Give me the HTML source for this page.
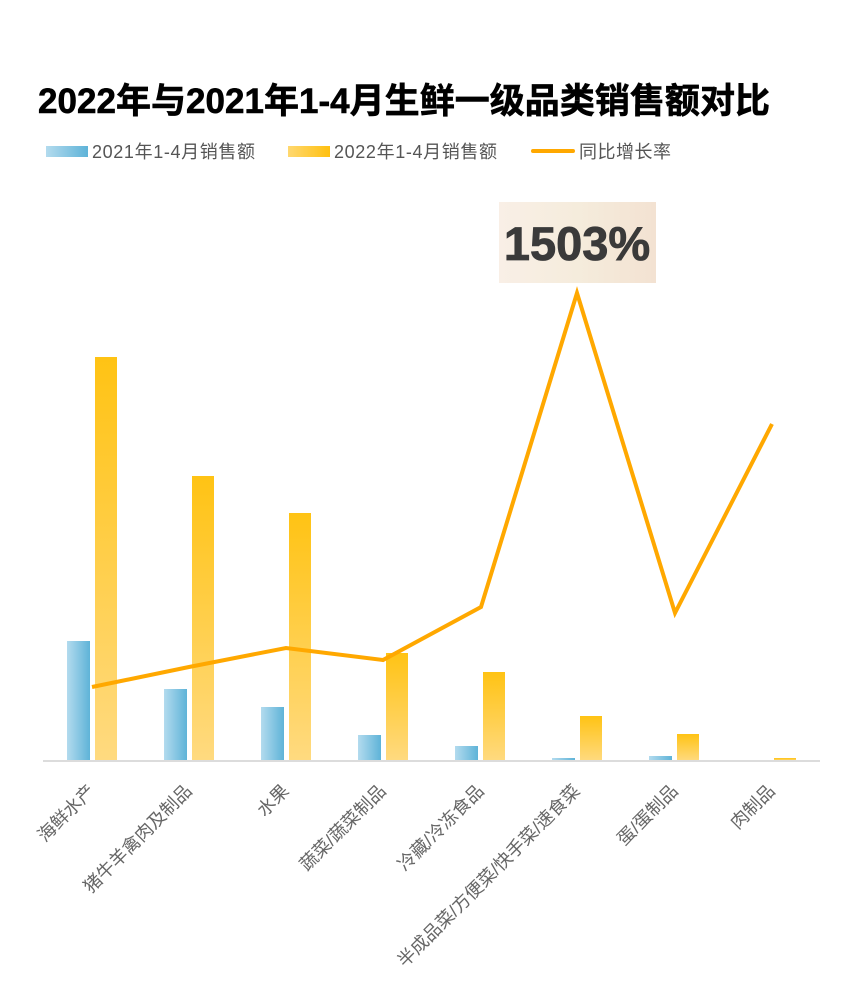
<!DOCTYPE html>
<html><head><meta charset="utf-8"><style>
html,body{margin:0;padding:0;background:#fff;}
svg{display:block;}
</style></head><body>
<svg width="850" height="1006" viewBox="0 0 850 1006" xmlns="http://www.w3.org/2000/svg">
<defs>
<linearGradient id="bl" x1="0" y1="0" x2="1" y2="0"><stop offset="0" stop-color="#b3dbee"/><stop offset="1" stop-color="#5eb3d8"/></linearGradient>
<linearGradient id="yl" x1="0" y1="0" x2="0" y2="1"><stop offset="0" stop-color="#ffc314"/><stop offset="1" stop-color="#ffda80"/></linearGradient>
<linearGradient id="ylh" x1="0" y1="0" x2="1" y2="0"><stop offset="0" stop-color="#ffd870"/><stop offset="1" stop-color="#ffc010"/></linearGradient>
<linearGradient id="bx" x1="0" y1="0" x2="1" y2="0"><stop offset="0" stop-color="#f9efe6"/><stop offset="0.5" stop-color="#f5ecdc"/><stop offset="1" stop-color="#f3e2d2"/></linearGradient>
</defs>
<text x="38" y="113" font-family="Liberation Sans, Noto Sans CJK SC, sans-serif" font-size="35" font-weight="bold" fill="#000" stroke="#000" stroke-width="0.6" textLength="732" lengthAdjust="spacing">2022年与2021年1-4月生鲜一级品类销售额对比</text>
<g font-family="Liberation Sans, Noto Sans CJK SC, sans-serif" font-size="18" fill="#555">
<rect x="46" y="146" width="42" height="11" fill="url(#bl)"/>
<text x="92" y="158" textLength="163" lengthAdjust="spacing">2021年1-4月销售额</text>
<rect x="288" y="146" width="42" height="11" fill="url(#ylh)"/>
<text x="334" y="158" textLength="163" lengthAdjust="spacing">2022年1-4月销售额</text>
<rect x="531" y="149" width="44" height="4" rx="2" fill="#ffa800"/>
<text x="579" y="158" textLength="92" lengthAdjust="spacing">同比增长率</text>
</g>
<rect x="499" y="202" width="157" height="81" fill="url(#bx)"/>
<text x="577" y="260" text-anchor="middle" font-family="Liberation Sans, sans-serif" font-size="47" font-weight="bold" fill="#3a3a3a" stroke="#3a3a3a" stroke-width="0.8">1503%</text>
<g>
<rect x="67" y="641" width="23" height="120" fill="url(#bl)"/>
<rect x="95" y="357" width="22" height="404" fill="url(#yl)"/>
<rect x="164" y="689" width="23" height="72" fill="url(#bl)"/>
<rect x="192" y="476" width="22" height="285" fill="url(#yl)"/>
<rect x="261" y="707" width="23" height="54" fill="url(#bl)"/>
<rect x="289" y="513" width="22" height="248" fill="url(#yl)"/>
<rect x="358" y="735" width="23" height="26" fill="url(#bl)"/>
<rect x="386" y="653" width="22" height="108" fill="url(#yl)"/>
<rect x="455" y="746" width="23" height="15" fill="url(#bl)"/>
<rect x="483" y="672" width="22" height="89" fill="url(#yl)"/>
<rect x="552" y="758" width="23" height="3" fill="url(#bl)"/>
<rect x="580" y="716" width="22" height="45" fill="url(#yl)"/>
<rect x="649" y="756" width="23" height="5" fill="url(#bl)"/>
<rect x="677" y="734" width="22" height="27" fill="url(#yl)"/>
<rect x="746" y="760" width="23" height="1" fill="url(#bl)"/>
<rect x="774" y="758" width="22" height="3" fill="url(#yl)"/>
</g>
<rect x="43" y="760" width="777" height="2" fill="#dcdcdc"/>
<polyline points="92,687 189,667 286,648 383,660 481,607 577,293 675,613 772,424" fill="none" stroke="#ffa800" stroke-width="4" stroke-linejoin="miter"/>
<g font-family="Liberation Sans, Noto Sans CJK SC, sans-serif" font-size="18" fill="#666" text-anchor="end">
<text transform="translate(96,792) rotate(-45)">海鲜水产</text>
<text transform="translate(193,792) rotate(-45)">猪牛羊禽肉及制品</text>
<text transform="translate(290,792) rotate(-45)">水果</text>
<text transform="translate(387,792) rotate(-45)">蔬菜/蔬菜制品</text>
<text transform="translate(485,792) rotate(-45)">冷藏/冷冻食品</text>
<text transform="translate(581,792) rotate(-45)">半成品菜/方便菜/快手菜/速食菜</text>
<text transform="translate(679,792) rotate(-45)">蛋/蛋制品</text>
<text transform="translate(776,792) rotate(-45)">肉制品</text>
</g>
</svg>
</body></html>
